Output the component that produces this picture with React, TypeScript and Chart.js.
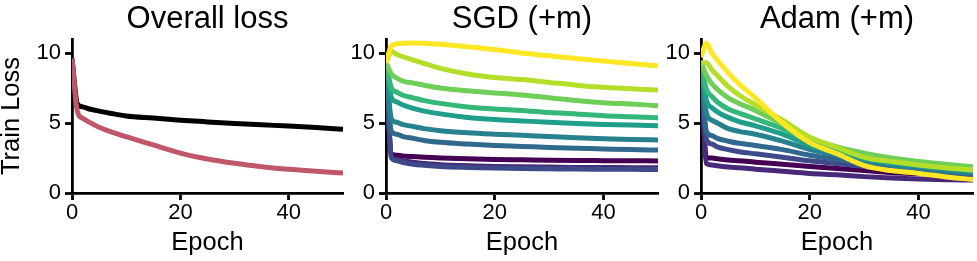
import React, { useEffect, useRef } from 'react';
import { Chart, registerables } from 'chart.js';

Chart.register(...registerables);

// ---------- data ----------
const EPOCHS = [0, 1, 2, 3, 5, 7, 10, 15, 20, 25, 30, 35, 40, 45, 50];
const X_TICKS = [0, 20, 40];
const Y_TICKS = [0, 5, 10];

const PANEL_TITLES = ['Overall loss', 'SGD (+m)', 'Adam (+m)'];
const X_LABEL = 'Epoch';
const Y_LABEL = 'Train Loss';

// Overall loss panel
const OVERALL_SGD = [9.6, 6.35, 6.15, 6.02, 5.85, 5.7, 5.5, 5.35, 5.2, 5.08, 4.97, 4.87, 4.78, 4.67, 4.55];
const OVERALL_ADAM = [9.6, 5.8, 5.33, 5.1, 4.7, 4.4, 4.02, 3.43, 2.85, 2.43, 2.12, 1.88, 1.69, 1.55, 1.43];

// SGD (+m) panel, one series per colour level (0 = darkest)
const SGD_0 = [9.3, 2.8, 2.7, 2.65, 2.6, 2.55, 2.5, 2.45, 2.4, 2.37, 2.34, 2.32, 2.31, 2.3, 2.29];
const SGD_1 = [9.3, 2.6, 2.4, 2.3, 2.2, 2.1, 2.02, 1.95, 1.9, 1.87, 1.85, 1.83, 1.82, 1.81, 1.8];
const SGD_2 = [9.3, 2.5, 2.3, 2.2, 2.05, 1.98, 1.9, 1.83, 1.78, 1.75, 1.73, 1.71, 1.7, 1.69, 1.68];
const SGD_3 = [9.3, 4.4, 4.2, 4.05, 3.9, 3.75, 3.62, 3.5, 3.4, 3.33, 3.25, 3.2, 3.15, 3.1, 3.07];
const SGD_4 = [9.3, 5.3, 5.05, 4.9, 4.75, 4.6, 4.45, 4.3, 4.2, 4.12, 4.03, 3.95, 3.88, 3.83, 3.79];
const SGD_5 = [9.3, 6.8, 6.5, 6.3, 6.05, 5.85, 5.65, 5.4, 5.25, 5.15, 5.05, 4.97, 4.9, 4.85, 4.81];
const SGD_6 = [9.3, 7.5, 7.2, 7.0, 6.8, 6.6, 6.4, 6.15, 6.0, 5.9, 5.75, 5.65, 5.52, 5.45, 5.38];
const SGD_7 = [9.3, 8.5, 8.2, 8.0, 7.85, 7.7, 7.5, 7.3, 7.15, 7.0, 6.8, 6.6, 6.45, 6.35, 6.24];
const SGD_8 = [9.3, 10.1, 9.9, 9.75, 9.5, 9.25, 8.9, 8.5, 8.25, 8.1, 7.9, 7.7, 7.55, 7.45, 7.35];
const SGD_9 = [9.3, 10.5, 10.65, 10.7, 10.72, 10.7, 10.62, 10.45, 10.25, 10.0, 9.8, 9.6, 9.42, 9.25, 9.08];

// Adam (+m) panel
const ADAM_0 = [9.3, 2.5, 2.5, 2.45, 2.35, 2.3, 2.2, 2.05, 1.9, 1.75, 1.6, 1.45, 1.38, 1.32, 1.28];
const ADAM_1 = [9.3, 2.1, 2.0, 1.95, 1.85, 1.8, 1.7, 1.55, 1.4, 1.3, 1.17, 1.07, 1.0, 0.95, 0.92];
const ADAM_2 = [9.3, 3.8, 3.5, 3.3, 3.1, 2.95, 2.8, 2.55, 2.3, 2.1, 1.9, 1.7, 1.55, 1.42, 1.32];
const ADAM_3 = [9.3, 4.4, 4.1, 3.9, 3.7, 3.55, 3.4, 3.1, 2.7, 2.4, 2.1, 1.85, 1.65, 1.5, 1.36];
const ADAM_4 = [9.3, 5.7, 5.2, 5.0, 4.6, 4.4, 4.2, 3.7, 3.1, 2.7, 2.3, 2.0, 1.8, 1.6, 1.45];
const ADAM_5 = [9.3, 6.6, 6.1, 5.8, 5.4, 5.1, 4.8, 4.2, 3.4, 2.9, 2.45, 2.15, 1.95, 1.75, 1.55];
const ADAM_6 = [9.3, 7.4, 6.9, 6.5, 6.0, 5.7, 5.3, 4.6, 3.7, 3.1, 2.6, 2.3, 2.05, 1.85, 1.65];
const ADAM_7 = [9.3, 8.4, 7.8, 7.4, 6.8, 6.4, 5.9, 4.9, 3.9, 3.3, 2.85, 2.5, 2.25, 2.05, 1.88];
const ADAM_8 = [9.3, 9.3, 8.8, 8.4, 7.6, 7.0, 6.3, 5.2, 4.0, 3.25, 2.55, 2.25, 2.0, 1.8, 1.64];
const ADAM_9 = [9.7, 10.7, 10.0, 9.5, 8.6, 7.8, 6.8, 5.0, 3.6, 2.8, 1.95, 1.6, 1.4, 1.15, 0.97];

const VIRIDIS = ['#440154', '#482878', '#3e4989', '#31688e', '#26828e', '#1f9e89', '#35b779', '#6ece58', '#b5de2b', '#fde725'];
const OVERALL_COLORS = ['#000000', '#c0566a'];

const SGD_SERIES = [SGD_0, SGD_1, SGD_2, SGD_3, SGD_4, SGD_5, SGD_6, SGD_7, SGD_8, SGD_9];
const ADAM_SERIES = [ADAM_0, ADAM_1, ADAM_2, ADAM_3, ADAM_4, ADAM_5, ADAM_6, ADAM_7, ADAM_8, ADAM_9];

// ---------- helpers ----------
const FONT = "'Liberation Sans', Arial, Helvetica, sans-serif";
const LINE_W = 5;
const AXIS_W = 2.8;

function toPoints(values: number[]) {
  return values.map((v, i) => ({ x: EPOCHS[i], y: v }));
}

function ds(values: number[], color: string) {
  return {
    data: toPoints(values),
    borderColor: color,
    backgroundColor: color,
    borderWidth: LINE_W,
    pointRadius: 0,
    fill: false,
    cubicInterpolationMode: 'monotone' as const,
    borderJoinStyle: 'round' as const,
    borderCapStyle: 'butt' as const,
  };
}

type PanelProps = {
  left: number;
  width: number;
  yWidth: number;
  rightPad: number;
  title: string;
  showYTitle: boolean;
  datasets: any[];
};

function Panel({ left, width, yWidth, rightPad, title, showYTitle, datasets }: PanelProps) {
  const ref = useRef<HTMLCanvasElement | null>(null);
  useEffect(() => {
    if (!ref.current) return;
    const chart = new Chart(ref.current, {
      type: 'line',
      data: { datasets },
      options: {
        animation: false,
        responsive: false,
        devicePixelRatio: 1,
        layout: { padding: { left: 0, right: rightPad, top: 0, bottom: 0 } },
        plugins: {
          legend: { display: false },
          tooltip: { enabled: false },
          title: {
            display: true,
            text: title,
            fullSize: false,
            color: '#000',
            font: { family: FONT, size: 31, weight: 'normal', lineHeight: 1 },
            padding: { top: 3.8, bottom: 4.2 },
          },
        },
        scales: {
          x: {
            type: 'linear',
            min: 0,
            max: 50,
            afterBuildTicks: (s: any) => {
              s.ticks = X_TICKS.map((v) => ({ value: v }));
            },
            afterFit: (s: any) => {
              s.height = 68;
            },
            grid: {
              display: true,
              drawOnChartArea: false,
              drawTicks: true,
              tickLength: 7,
              tickWidth: AXIS_W,
              tickColor: '#000',
            },
            border: { display: true, color: '#000', width: AXIS_W },
            ticks: {
              color: '#000',
              font: { family: FONT, size: 22, lineHeight: 1 },
              padding: 1.5,
              maxRotation: 0,
              autoSkip: false,
            },
            title: {
              display: true,
              text: X_LABEL,
              color: '#000',
              font: { family: FONT, size: 25.5, lineHeight: 1 },
              padding: { top: 0, bottom: 5 },
            },
          },
          y: {
            type: 'linear',
            min: 0,
            max: 11,
            afterBuildTicks: (s: any) => {
              s.ticks = Y_TICKS.map((v) => ({ value: v }));
            },
            afterFit: (s: any) => {
              s.width = yWidth;
            },
            grid: {
              display: true,
              drawOnChartArea: false,
              drawTicks: true,
              tickLength: 7,
              tickWidth: AXIS_W,
              tickColor: '#000',
            },
            border: { display: true, color: '#000', width: AXIS_W },
            ticks: {
              color: '#000',
              font: { family: FONT, size: 22, lineHeight: 1 },
              padding: 4,
              autoSkip: false,
            },
            title: {
              display: showYTitle,
              text: Y_LABEL,
              color: '#000',
              font: { family: FONT, size: 25.5, lineHeight: 1 },
              padding: { top: -0.5, bottom: 0 },
            },
          },
        },
      } as any,
    });
    return () => chart.destroy();
  }, []);
  return (
    <canvas
      ref={ref}
      width={width}
      height={261}
      style={{ position: 'absolute', left, top: 0, width, height: 261 }}
    />
  );
}

export default function App() {
  const overall = [ds(OVERALL_ADAM, OVERALL_COLORS[1]), ds(OVERALL_SGD, OVERALL_COLORS[0])];
  // Chart.js draws dataset 0 last (on top): put the brightest colour first
  const sgd = SGD_SERIES.map((s, i) => ds(s, VIRIDIS[i])).reverse();
  const adam = ADAM_SERIES.map((s, i) => ds(s, VIRIDIS[i])).reverse();
  return (
    <div style={{ position: 'absolute', left: 0, top: 0, width: 977, height: 261, background: '#fff' }}>
      <Panel left={0} width={345} yWidth={72} rightPad={2} title={PANEL_TITLES[0]} showYTitle={true} datasets={overall} />
      <Panel left={345} width={315} yWidth={41} rightPad={2} title={PANEL_TITLES[1]} showYTitle={false} datasets={sgd} />
      <Panel left={660} width={317} yWidth={41} rightPad={4} title={PANEL_TITLES[2]} showYTitle={false} datasets={adam} />
    </div>
  );
}
